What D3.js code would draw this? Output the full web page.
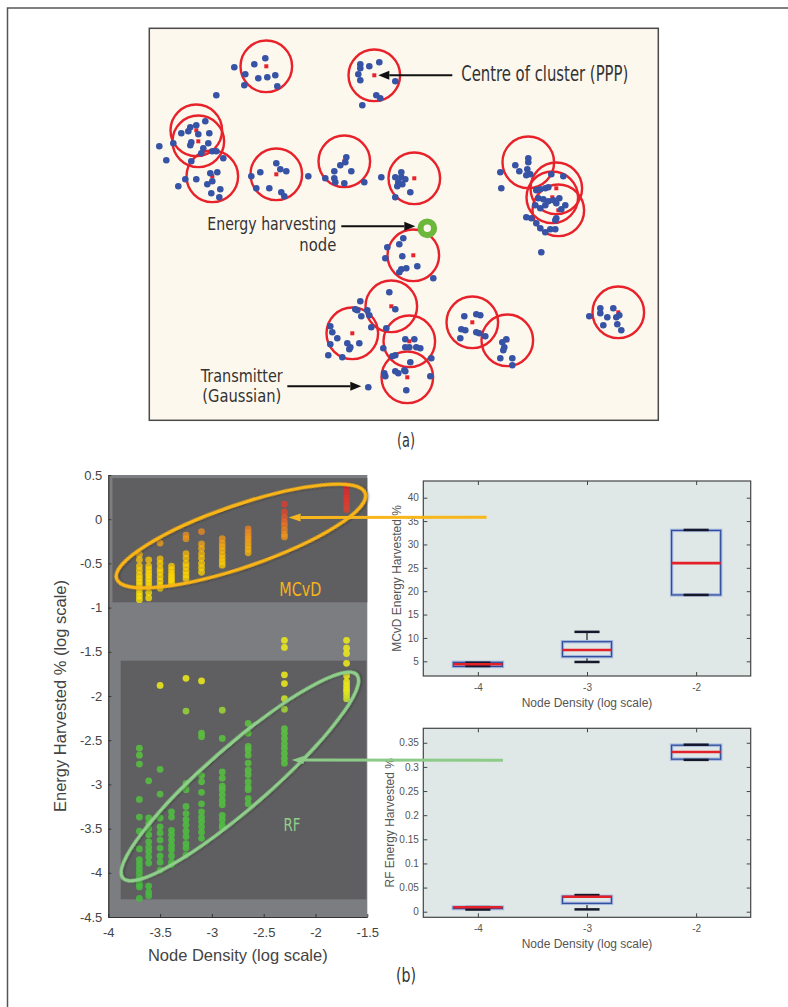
<!DOCTYPE html>
<html>
<head>
<meta charset="utf-8">
<script src="https://cdn.jsdelivr.net/npm/d3@7"></script>
<style>
    body { margin: 0; background: #fff; }
    svg { display: block; font-family: "Liberation Sans", Arial, sans-serif; }
    .note { font-family: "Liberation Sans Narrow", "DejaVu Sans Condensed", "Open Sans", sans-serif; font-stretch: condensed; }
</style>
</head>
<body>
<script>
// ---- panel (a): field of clustered transmitters (units: metres in a 509 x 392 field)
const clusterCentres = [
    [117, 354], [225, 345], [47, 290], [49, 279], [63, 244], [127, 246], [195, 259],
    [265, 242], [379, 258], [407, 232], [403, 223], [409, 210], [264, 165], [242, 114],
    [203, 87], [260, 79], [258, 43], [323, 98], [358, 80], [469, 108]
];
const clusterRadius = 25.8;
const transmitters = [
    [116, 362], [105, 356], [85, 353], [96, 346], [109, 342], [118, 343], [126, 345], [95, 335], [128, 334], [67, 325],
    [211, 356], [220, 354], [230, 358], [211, 352], [209, 346], [211, 340], [246, 339], [227, 325], [231, 322], [213, 315],
    [56, 299], [47, 295], [41, 293], [39, 289], [32, 287], [49, 286], [60, 287], [42, 278], [41, 275], [59, 277],
    [24, 277], [10, 274], [54, 272], [63, 269], [67, 269], [52, 267], [17, 260], [42, 259], [74, 262],
    [68, 248], [61, 247], [47, 241], [36, 241], [29, 234], [58, 236], [63, 239], [71, 231], [62, 227], [70, 223],
    [127, 257], [131, 251], [137, 249], [111, 248], [102, 244], [159, 244], [107, 232], [120, 232], [132, 228], [135, 224],
    [197, 263], [196, 258], [191, 255], [185, 249], [202, 249], [176, 242], [185, 242], [186, 238], [195, 237], [215, 238],
    [252, 248], [246, 243], [252, 243], [256, 241], [249, 238], [253, 236], [232, 243], [248, 234], [261, 228], [246, 223],
    [379, 262], [379, 258], [366, 255], [370, 249], [378, 251], [377, 245], [351, 248], [352, 232], [381, 246],
    [402, 246], [414, 244], [387, 230], [391, 231], [396, 232], [399, 233], [389, 222], [394, 221], [399, 219], [404, 220],
    [410, 222], [386, 215], [391, 212], [396, 215], [407, 217], [412, 211], [416, 215], [377, 203], [382, 202], [407, 202],
    [387, 197], [391, 192], [396, 188], [401, 191], [406, 191], [406, 200], [392, 168],
    [254, 182], [250, 176], [238, 173], [253, 164], [236, 162], [268, 154], [257, 152], [252, 151], [250, 148], [284, 142],
    [240, 128], [211, 119], [206, 111], [208, 110], [218, 110], [212, 104], [220, 105], [246, 111], [222, 93], [237, 92],
    [181, 94], [183, 88], [188, 82], [181, 76], [198, 77], [201, 73], [210, 77], [200, 71], [179, 65], [193, 63],
    [256, 81], [265, 81], [256, 73], [260, 73], [267, 73], [271, 72], [234, 72], [246, 65], [243, 64], [282, 62], [261, 58],
    [246, 49], [249, 47], [255, 50], [256, 49], [235, 47], [236, 44], [281, 44], [257, 30], [219, 33],
    [315, 104], [327, 106], [331, 105], [312, 91], [316, 90], [327, 88], [330, 87], [336, 84], [311, 82],
    [357, 81], [353, 78], [355, 73], [354, 70], [351, 62], [363, 62], [363, 55],
    [451, 112], [451, 107], [464, 112], [458, 103], [467, 103], [470, 105], [440, 104], [454, 95], [468, 96], [472, 90]
];
const harvestingNode = [278, 192];

// ---- panel (b) left: scatter, log10 energy harvested vs log10 node density
const densities = [-3.70, -3.61, -3.50, -3.39, -3.25, -3.10, -2.90, -2.65, -2.30, -1.70];
const mcvdValues = [
    [-0.40, -0.46, -0.53, -0.58, -0.63, -0.67, -0.71, -0.75, -0.79, -0.83, -0.87, -0.91],
    [-0.46, -0.53, -0.57, -0.61, -0.64, -0.68, -0.72, -0.76, -0.83, -0.89],
    [-0.27, -0.45, -0.50, -0.56, -0.60, -0.65, -0.70, -0.75, -0.78],
    [-0.53, -0.57, -0.61, -0.64, -0.67, -0.70, -0.73],
    [-0.18, -0.22, -0.39, -0.44, -0.50, -0.54, -0.59, -0.63, -0.67],
    [-0.14, -0.28, -0.33, -0.39, -0.44, -0.50, -0.55, -0.60],
    [-0.22, -0.27, -0.31, -0.35, -0.40, -0.44, -0.48, -0.52],
    [-0.11, -0.15, -0.19, -0.22, -0.26, -0.30, -0.34, -0.38],
    [0.17, 0.08, 0.02, -0.03, -0.07, -0.12, -0.17, -0.20],
    [0.38, 0.33, 0.28, 0.24, 0.20, 0.16, 0.11]
];
const rfValues = [
    [-2.59, -2.67, -2.77, -3.17, -3.37, -3.53, -3.73, -3.85, -3.90, -3.95, -4.00, -4.05, -4.08, -4.13, -4.16, -4.29],
    [-2.96, -3.38, -3.44, -3.50, -3.57, -3.65, -3.71, -3.76, -3.82, -3.89, -4.15, -4.22, -4.26],
    [-1.88, -2.83, -3.11, -3.38, -3.48, -3.55, -3.63, -3.72, -3.81, -3.88, -3.97],
    [-3.31, -3.37, -3.52, -3.57, -3.63, -3.69, -3.74, -3.81, -3.88, -3.91],
    [-1.80, -2.17, -2.99, -3.06, -3.25, -3.33, -3.40, -3.46, -3.53, -3.59, -3.67, -3.72, -3.80],
    [-1.83, -2.42, -2.46, -2.90, -2.97, -3.09, -3.22, -3.31, -3.37, -3.42, -3.48, -3.54, -3.61],
    [-2.16, -2.48, -2.86, -2.93, -3.02, -3.06, -3.12, -3.18, -3.23, -3.35, -3.40, -3.46, -3.49],
    [-2.31, -2.42, -2.57, -2.61, -2.67, -2.76, -2.84, -2.89, -2.97, -3.03, -3.06, -3.16, -3.22],
    [-1.37, -1.45, -1.76, -1.86, -2.03, -2.15, -2.37, -2.42, -2.48, -2.54, -2.59, -2.65, -2.71, -2.76],
    [-1.37, -1.46, -1.52, -1.63, -1.77, -1.84, -1.88, -1.92, -1.95, -1.99, -2.03]
];
const scatterXTicks = [-4, -3.5, -3, -2.5, -2, -1.5];
const scatterYTicks = [0.5, 0, -0.5, -1, -1.5, -2, -2.5, -3, -3.5, -4, -4.5];

// ---- panel (b) right: box plots
const boxDensity = [-4, -3, -2];
const mcvdLow = [4.0, 4.86, 19.2];
const mcvdQ1 = [3.9, 6.0, 19.2];
const mcvdMedian = [4.36, 7.43, 26.0];
const mcvdQ3 = [4.78, 9.2, 33.0];
const mcvdHigh = [4.7, 11.3, 33.1];
const mcvdTicks = [5, 10, 15, 20, 25, 30, 35, 40];
const rfLow = [0.0045, 0.0048, 0.3146];
const rfQ1 = [0.0065, 0.0173, 0.316];
const rfMedian = [0.0092, 0.031, 0.331];
const rfQ3 = [0.0095, 0.0318, 0.345];
const rfHigh = [0.0095, 0.0345, 0.346];
const rfTicks = [0, 0.05, 0.1, 0.15, 0.2, 0.25, 0.3, 0.35];

const W = 788, H = 1007;
const svg = d3.select('body').append('svg').attr('width', W).attr('height', H);

const defs = svg.append('defs');
const shadow = defs.append('filter').attr('id', 'soft-shadow')
    .attr('x', '-10%').attr('y', '-10%').attr('width', '120%').attr('height', '120%');
shadow.append('feDropShadow')
    .attr('dx', 1).attr('dy', 1).attr('stdDeviation', 1.2)
    .attr('flood-color', '#222').attr('flood-opacity', 0.55);

function arrow(g, x1, y1, x2, y2, color, width, headLen, headW) {
    const ang = Math.atan2(y2 - y1, x2 - x1);
    const bx = x2 - headLen * Math.cos(ang), by = y2 - headLen * Math.sin(ang);
    g.append('line')
        .attr('x1', x1).attr('y1', y1).attr('x2', bx).attr('y2', by)
        .attr('stroke', color).attr('stroke-width', width);
    const px = -Math.sin(ang) * headW / 2, py = Math.cos(ang) * headW / 2;
    g.append('path')
        .attr('d', `M${x2},${y2}L${bx + px},${by + py}L${bx - px},${by - py}Z`)
        .attr('fill', color);
}

function note(g, text, x, y, anchor, size, width, color) {
    return g.append('text')
        .attr('class', 'note')
        .attr('x', x).attr('y', y)
        .attr('text-anchor', anchor)
        .attr('font-size', size)
        .attr('fill', color || '#333')
        .attr('textLength', width)
        .attr('lengthAdjust', 'spacingAndGlyphs')
        .text(text);
}

// outer figure frame
svg.append('path')
    .attr('d', `M7.5,${H}V8H${W}`)
    .attr('fill', 'none').attr('stroke', '#555').attr('stroke-width', 1.5);

// ================= panel (a) =================
const xA = d3.scaleLinear().domain([0, 509]).range([149.3, 658.3]);
const yA = d3.scaleLinear().domain([0, 392]).range([420.3, 28.3]);
const gA = svg.append('g');

gA.append('rect')
    .attr('x', xA(0)).attr('y', yA(392))
    .attr('width', xA(509) - xA(0)).attr('height', yA(0) - yA(392))
    .attr('fill', '#fdf8ee').attr('stroke', '#4a4a4a').attr('stroke-width', 1.5);

const rPix = xA(clusterRadius) - xA(0);
gA.selectAll('circle.cluster')
    .data(clusterCentres).join('circle')
    .attr('class', 'cluster')
    .attr('cx', d => xA(d[0])).attr('cy', d => yA(d[1]))
    .attr('r', rPix)
    .attr('fill', 'none').attr('stroke', '#e8222b').attr('stroke-width', 2.4);

gA.selectAll('rect.centre')
    .data(clusterCentres).join('rect')
    .attr('class', 'centre')
    .attr('x', d => xA(d[0]) - 2).attr('y', d => yA(d[1]) - 2)
    .attr('width', 4).attr('height', 4)
    .attr('fill', '#e8222b');

gA.selectAll('circle.tx')
    .data(transmitters).join('circle')
    .attr('class', 'tx')
    .attr('cx', d => xA(d[0])).attr('cy', d => yA(d[1]))
    .attr('r', 3.3)
    .attr('fill', '#3653a6');

gA.append('circle')
    .attr('cx', xA(harvestingNode[0])).attr('cy', yA(harvestingNode[1]))
    .attr('r', 6.8)
    .attr('fill', '#fdf8ee').attr('stroke', '#6cb83c').attr('stroke-width', 6.2);

// annotations
arrow(gA, xA(303), yA(345), xA(229), yA(345), '#111', 2, 11, 9);
note(gA, 'Centre of cluster (PPP)', xA(312), yA(339), 'start', 20.5, 167);

arrow(gA, xA(192), yA(194), xA(266), yA(194), '#111', 2, 11, 9);
note(gA, 'Energy harvesting', xA(187), yA(190), 'end', 17.5, 129);
note(gA, 'node', xA(187), yA(169.5), 'end', 17.5, 37);

arrow(gA, xA(138), yA(34), xA(212), yA(34), '#111', 2, 11, 9);
note(gA, 'Transmitter', xA(92.5), yA(38.5), 'middle', 17.5, 82);
note(gA, '(Gaussian)', xA(92.5), yA(18.5), 'middle', 17.5, 79);

note(svg, '(a)', 406, 447, 'middle', 20, 18);

// ================= panel (b) left: scatter =================
const xS = d3.scaleLinear().domain([-4, -1.5]).range([108.3, 367.3]);
const yS = d3.scaleLinear().domain([-4.5, 0.5]).range([917, 475]);
const gS = svg.append('g');

gS.append('rect')
    .attr('x', xS(-4)).attr('y', yS(0.5))
    .attr('width', xS(-1.5) - xS(-4)).attr('height', yS(-4.5) - yS(0.5))
    .attr('fill', '#7c7d81');
gS.append('rect')
    .attr('x', xS(-3.96)).attr('y', yS(0.465))
    .attr('width', xS(-1.5) - xS(-3.96)).attr('height', yS(-0.94) - yS(0.465))
    .attr('fill', '#5f5f61');
gS.append('rect')
    .attr('x', xS(-3.88)).attr('y', yS(-1.6))
    .attr('width', xS(-1.51) - xS(-3.88)).attr('height', yS(-4.3) - yS(-1.6))
    .attr('fill', '#5f5f61');

const mcvdColor = d3.scaleLinear()
    .domain([-0.9, -0.5, -0.15, 0.1, 0.4])
    .range(['#ffe800', '#ffcc00', '#f08c1e', '#e8402a', '#e01f2a'])
    .clamp(true);
const rfColor = d3.scaleLinear()
    .domain([-4.3, -2.3, -2.12, -1.95])
    .range(['#47b842', '#5cc040', '#acd438', '#e8e61c'])
    .clamp(true);

const mcvdPoints = densities.flatMap((x, i) => mcvdValues[i].map(v => [x, v]));
const rfPoints = densities.flatMap((x, i) => rfValues[i].map(v => [x, v]));

gS.selectAll('circle.mcvd')
    .data(mcvdPoints).join('circle')
    .attr('class', 'mcvd')
    .attr('cx', d => xS(d[0])).attr('cy', d => yS(d[1]))
    .attr('r', 3.4)
    .attr('fill', d => mcvdColor(d[1]))
    .attr('fill-opacity', 0.75);

gS.selectAll('circle.rf')
    .data(rfPoints).join('circle')
    .attr('class', 'rf')
    .attr('cx', d => xS(d[0])).attr('cy', d => yS(d[1]))
    .attr('r', 3.4)
    .attr('fill', d => rfColor(d[1]))
    .attr('fill-opacity', 0.9);

// highlight ellipses (pixel geometry around a data-space centre)
gS.append('ellipse')
    .attr('transform', `translate(${xS(-2.72)},${yS(-0.19)}) rotate(-19)`)
    .attr('rx', 131.5).attr('ry', 31)
    .attr('fill', 'none').attr('stroke', '#fbb515').attr('stroke-width', 3.4)
    .attr('filter', 'url(#soft-shadow)');
gS.append('ellipse')
    .attr('transform', `translate(${xS(-2.73)},${yS(-2.91)}) rotate(-41)`)
    .attr('rx', 155).attr('ry', 31)
    .attr('fill', 'none').attr('stroke', '#8fd08a').attr('stroke-width', 3.4)
    .attr('filter', 'url(#soft-shadow)');

note(gS, 'MCvD', xS(-2.35), yS(-0.87), 'start', 20, 42, '#f7b31a');
note(gS, 'RF', xS(-2.31), yS(-3.53), 'start', 18, 17, '#8fcf8a');

const axS = gS.append('g').attr('class', 'axis-s');
axS.append('g')
    .attr('transform', `translate(${xS(-4)},0)`)
    .call(d3.axisLeft(yS).tickValues(scatterYTicks).tickFormat(d => String(d))
        .tickSizeInner(-3).tickSizeOuter(0).tickPadding(6));
axS.append('g')
    .attr('transform', `translate(0,${yS(-4.5)})`)
    .call(d3.axisBottom(xS).tickValues(scatterXTicks).tickFormat(d => String(d))
        .tickSizeInner(-3).tickSizeOuter(0).tickPadding(11));
axS.selectAll('.domain').attr('stroke', '#333').attr('stroke-width', 1.2);
axS.selectAll('.tick line').attr('stroke', '#333');
axS.selectAll('.tick text').attr('fill', '#444').attr('font-size', 13)
    .attr('font-family', '"Liberation Sans", Arial, sans-serif');

gS.append('text')
    .attr('x', (xS(-4) + xS(-1.5)) / 2).attr('y', 961)
    .attr('text-anchor', 'middle').attr('font-size', 16.5).attr('fill', '#444')
    .text('Node Density (log scale)');
gS.append('text')
    .attr('transform', `translate(66,${(yS(0.5) + yS(-4.5)) / 2}) rotate(-90)`)
    .attr('text-anchor', 'middle').attr('font-size', 16.5).attr('fill', '#444')
    .text('Energy Harvested % (log scale)');

// ================= panel (b) right: box plots =================
function boxPanel(top, bottom, yDomain, yTicks, yTitle, titleX, low, q1, med, q3, high) {
    const left = 423.3, right = 750.7;
    const x = d3.scaleLinear().domain([-4.5, -1.5]).range([left, right]);
    const y = d3.scaleLinear().domain(yDomain).range([bottom, top]);
    const g = svg.append('g');

    g.append('rect')
        .attr('x', left).attr('y', top)
        .attr('width', right - left).attr('height', bottom - top)
        .attr('fill', '#dfe8e6');

    const ax = g.append('g');
    ax.append('g').attr('transform', `translate(0,${bottom})`)
        .call(d3.axisBottom(x).tickValues(boxDensity).tickFormat(d => String(d))
            .tickSizeInner(-4).tickSizeOuter(0).tickPadding(8));
    ax.append('g').attr('transform', `translate(0,${top})`)
        .call(d3.axisTop(x).tickValues(boxDensity).tickFormat('')
            .tickSizeInner(-4).tickSizeOuter(0));
    ax.append('g').attr('transform', `translate(${left},0)`)
        .call(d3.axisLeft(y).tickValues(yTicks).tickFormat(d => String(d))
            .tickSizeInner(-4).tickSizeOuter(0).tickPadding(4.5));
    ax.append('g').attr('transform', `translate(${right},0)`)
        .call(d3.axisRight(y).tickValues(yTicks).tickFormat('')
            .tickSizeInner(-4).tickSizeOuter(0));
    ax.selectAll('.domain').remove();
    ax.selectAll('.tick line').attr('stroke', '#444');
    ax.selectAll('.tick text').attr('fill', '#555').attr('font-size', 10)
        .attr('font-family', '"Liberation Sans", Arial, sans-serif');

    g.append('rect')
        .attr('x', left).attr('y', top)
        .attr('width', right - left).attr('height', bottom - top)
        .attr('fill', 'none').attr('stroke', '#444').attr('stroke-width', 1.2);

    const hw = x(-4.5 + 0.225) - x(-4.5);
    const cw = x(-4.5 + 0.115) - x(-4.5);
    boxDensity.forEach((d, i) => {
        const cx = x(d);
        g.append('line')
            .attr('x1', cx).attr('x2', cx).attr('y1', y(q3[i])).attr('y2', y(high[i]))
            .attr('stroke', '#222').attr('stroke-width', 1.2);
        g.append('line')
            .attr('x1', cx).attr('x2', cx).attr('y1', y(q1[i])).attr('y2', y(low[i]))
            .attr('stroke', '#222').attr('stroke-width', 1.2);
        const bx = g.append('g');
        [['#a6b7de', 3.4], ['#2d4b9b', 1.2]].forEach(([c, w]) => {
            bx.append('rect')
                .attr('x', cx - hw).attr('y', y(q3[i]))
                .attr('width', 2 * hw).attr('height', Math.max(0.5, y(q1[i]) - y(q3[i])))
                .attr('fill', 'none').attr('stroke', c).attr('stroke-width', w);
        });
        [high[i], low[i]].forEach(v => {
            g.append('line')
                .attr('x1', cx - cw).attr('x2', cx + cw).attr('y1', y(v)).attr('y2', y(v))
                .attr('stroke', '#15182a').attr('stroke-width', 2.5);
        });
        g.append('line')
            .attr('x1', cx - hw).attr('x2', cx + hw).attr('y1', y(med[i])).attr('y2', y(med[i]))
            .attr('stroke', '#e3212b').attr('stroke-width', 2.6);
    });

    g.append('text')
        .attr('x', (left + right) / 2).attr('y', bottom + 31)
        .attr('text-anchor', 'middle').attr('font-size', 12).attr('fill', '#555')
        .text('Node Density (log scale)');
    g.append('text')
        .attr('transform', `translate(${titleX},${(top + bottom) / 2}) rotate(-90)`)
        .attr('text-anchor', 'middle').attr('font-size', 12).attr('fill', '#555')
        .text(yTitle);
    return { x, y };
}

const mcvdBox = boxPanel(481, 676, [1.86, 43.57], mcvdTicks, 'MCvD Energy Harvested %', 400.7,
    mcvdLow, mcvdQ1, mcvdMedian, mcvdQ3, mcvdHigh);
const rfBox = boxPanel(728.3, 917.3, [-0.0116, 0.38], rfTicks, 'RF Energy Harvested %', 393.5,
    rfLow, rfQ1, rfMedian, rfQ3, rfHigh);

// connecting arrows from the box plots to the scatter clusters
const gArr = svg.append('g');
arrow(gArr, mcvdBox.x(-3.92), mcvdBox.y(35.8), xS(-2.26), yS(0.02), '#f7b61c', 3, 12, 8);
arrow(gArr, rfBox.x(-3.77), rfBox.y(0.3137), xS(-2.23), yS(-2.724), '#8dcb88', 3, 12, 8);

note(svg, '(b)', 406, 982, 'middle', 20, 20);
</script>
</body>
</html>
